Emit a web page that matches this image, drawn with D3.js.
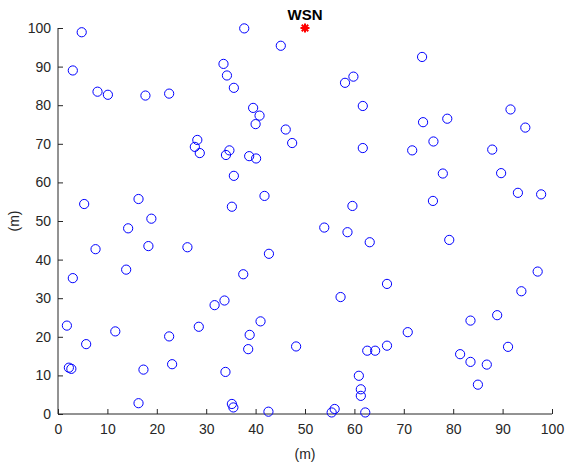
<!DOCTYPE html>
<html>
<head>
<meta charset="UTF-8">
<script src="https://cdnjs.cloudflare.com/ajax/libs/d3/7.8.2/d3.min.js"></script>
<style>
  body { margin: 0; background: #fff; }
  svg { display: block; font-family: "Liberation Sans", Arial, sans-serif; }
  .axis text { font-size: 14px; fill: #262626; }
  .axis path, .axis line { stroke: #262626; }
</style>
</head>
<body>
<svg width="565" height="463"></svg>
<script>
// node positions (m)
const nodeX = [4.8, 3.0, 8.0, 10.1, 17.7, 22.5, 27.7, 28.2, 28.7, 37.7,
  45.1, 33.5, 34.2, 35.6, 58.1, 59.8, 61.7, 39.5, 40.8, 40.0,
  46.1, 47.4, 61.7, 34.7, 34.0, 38.7, 40.1, 35.6, 41.8, 35.2,
  59.6, 53.9, 58.6, 63.1, 26.2, 42.7, 37.5, 66.6, 57.2, 33.7,
  31.7, 73.7, 91.6, 94.6, 73.9, 78.8, 76.0, 71.7, 87.9, 77.9,
  89.7, 93.1, 97.8, 75.9, 79.2, 97.1, 93.8, 5.3, 16.3, 18.9,
  14.2, 7.6, 18.3, 13.8, 3.0, 1.8, 5.7, 11.6, 2.2, 2.7,
  17.3, 22.5, 23.1, 16.3, 28.5, 41.0, 38.8, 38.5, 48.2, 33.9,
  35.2, 35.5, 42.6, 55.4, 56.0, 62.2, 60.9, 61.3, 61.3, 62.6,
  64.2, 66.6, 70.8, 83.5, 88.9, 81.4, 83.5, 86.8, 91.1, 85.0];
const nodeY = [98.9, 89.0, 83.5, 82.7, 82.5, 83.0, 69.2, 71.0, 67.6, 99.9,
  95.4, 90.7, 87.7, 84.5, 85.8, 87.4, 79.8, 79.3, 77.3, 75.1,
  73.7, 70.2, 68.9, 68.3, 67.1, 66.8, 66.2, 61.7, 56.5, 53.7,
  53.9, 48.3, 47.1, 44.5, 43.2, 41.5, 36.2, 33.7, 30.3, 29.4,
  28.2, 92.5, 78.9, 74.2, 75.6, 76.5, 70.6, 68.3, 68.5, 62.3,
  62.4, 57.3, 56.9, 55.2, 45.1, 36.9, 31.8, 54.4, 55.7, 50.6,
  48.1, 42.7, 43.5, 37.4, 35.2, 22.9, 18.1, 21.4, 12.0, 11.7,
  11.5, 20.1, 12.9, 2.8, 22.6, 24.0, 20.5, 16.8, 17.5, 10.9,
  2.6, 1.7, 0.6, 0.4, 1.3, 0.4, 9.9, 6.4, 4.7, 16.4,
  16.4, 17.7, 21.2, 24.2, 25.6, 15.5, 13.5, 12.8, 17.4, 7.6];
const sink = { name: "WSN", x: 50, y: 100 };
const ticks = [0, 10, 20, 30, 40, 50, 60, 70, 80, 90, 100];

const svg = d3.select("svg");
const x = d3.scaleLinear().domain([0, 100]).range([58, 552]);
const y = d3.scaleLinear().domain([0, 100]).range([414, 28]);

// axes, ticks pointing inward like MATLAB
const xAxis = svg.append("g").attr("class", "axis")
  .attr("transform", "translate(0,414)")
  .call(d3.axisBottom(x).tickValues(ticks).tickSize(-5).tickPadding(10).tickSizeOuter(0));
const yAxis = svg.append("g").attr("class", "axis")
  .attr("transform", "translate(58,0)")
  .call(d3.axisLeft(y).tickValues(ticks).tickSize(-5).tickPadding(7).tickSizeOuter(0));
xAxis.select(".domain").attr("d", "M58,0H552");
yAxis.select(".domain").attr("d", "M0,414V28");

svg.append("text").attr("x", 305).attr("y", 459)
  .attr("text-anchor", "middle").style("font-size", "14px").attr("fill", "#262626")
  .text("(m)");
svg.append("text").attr("transform", "translate(19,221) rotate(-90)")
  .attr("text-anchor", "middle").style("font-size", "14px").attr("fill", "#262626")
  .text("(m)");

// sensor nodes
svg.append("g").selectAll("circle")
  .data(nodeX.map((d, i) => [d, nodeY[i]]))
  .join("circle")
  .attr("cx", d => x(d[0]))
  .attr("cy", d => y(d[1]))
  .attr("r", 4.6)
  .attr("fill", "none")
  .attr("stroke", "#0000ff")
  .attr("stroke-width", 1);

// sink
const s = 4.5, sd = s * 0.72;
const g = svg.append("g").attr("transform", `translate(${x(sink.x)},${y(sink.y)})`);
g.append("path")
  .attr("d", `M${-s},0H${s}M0,${-s}V${s}M${-sd},${-sd}L${sd},${sd}M${-sd},${sd}L${sd},${-sd}`)
  .attr("stroke", "#ff0000").attr("stroke-width", 2).attr("fill", "none");
svg.append("text").attr("x", x(sink.x)).attr("y", y(sink.y) - 8)
  .attr("text-anchor", "middle").style("font-size", "15px").style("font-weight", "bold")
  .attr("fill", "#000").text(sink.name);
</script>
</body>
</html>
